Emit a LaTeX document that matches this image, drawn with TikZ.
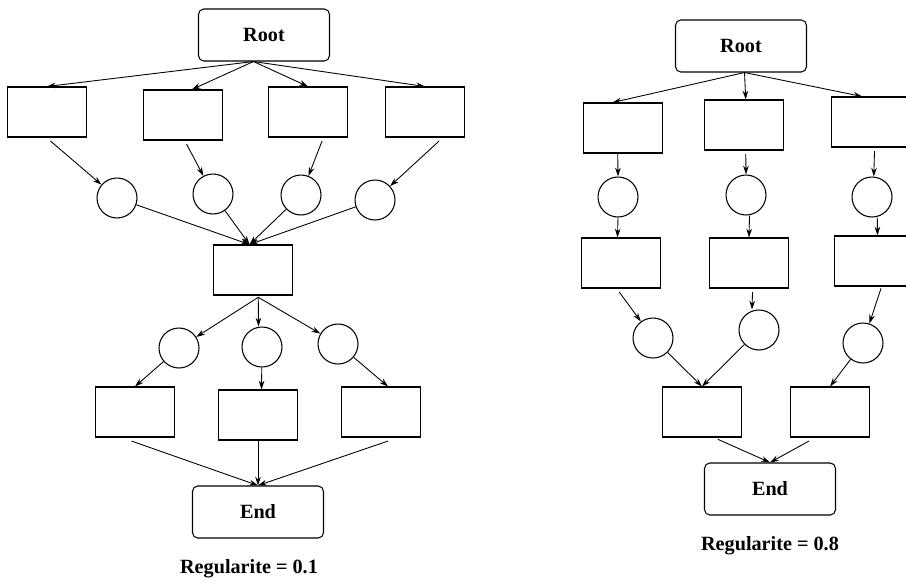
\documentclass[tikz,border=0pt]{standalone}
\usepackage{fontspec}
\setmainfont{Liberation Serif}
\usetikzlibrary{arrows.meta}
\tikzset{
  box/.style={draw, line width=0.6pt, minimum width=1.58cm, minimum height=1cm, inner sep=0pt},
  circ/.style={draw, circle, line width=0.6pt, minimum size=0.8cm, inner sep=0pt},
  term/.style={draw, rounded corners=3pt, line width=0.6pt, minimum width=2.62cm, minimum height=1.04cm, font=\fontsize{11.5}{13}\selectfont\bfseries},
  lbl/.style={font=\fontsize{11.5}{13}\selectfont\bfseries},
  arr/.style={-{Stealth[length=5pt,width=3.2pt]}, line width=0.5pt}
}
\begin{document}
\begin{tikzpicture}[x=0.02cm, y=-0.02cm]
    \useasboundingbox (0,0) rectangle (906,586);
    \clip (0,0) rectangle (906,586);
    % left graph
    \node[term] (root) at (264,35) {Root};
    \node[box] (r1) at (47,112) {};
    \node[box] (r2) at (183,115) {};
    \node[box] (r3) at (308,112) {};
    \node[box] (r4) at (425,112) {};
    \node[circ] (c1) at (117,198) {};
    \node[circ] (c2) at (213,194) {};
    \node[circ] (c3) at (301,195) {};
    \node[circ] (c4) at (375,200) {};
    \node[box] (m) at (253,270) {};
    \node[circ] (c5) at (179,348) {};
    \node[circ] (c6) at (262,347) {};
    \node[circ] (c7) at (338,344) {};
    \node[box] (b1) at (135,412) {};
    \node[box] (b2) at (258,415) {};
    \node[box] (b3) at (381,412) {};
    \node[term] (end) at (258,512) {End};
    \node[lbl] (reg1) at (249,569) {Regularite = 0.1};
    \draw[arr] ([xshift=-6pt]root.south) -- (r1.north);
    \draw[arr] ([xshift=-6pt]root.south) -- ([xshift=5pt]r2.north);
    \draw[arr] ([xshift=-6pt]root.south) -- (r3.north);
    \draw[arr] ([xshift=-6pt]root.south) -- (r4.north);
    \draw[arr] ([xshift=2pt,yshift=-2pt]r1.south) -- (c1);
    \draw[arr] ([xshift=2pt,yshift=-2pt]r2.south) -- (c2);
    \draw[arr] ([xshift=8pt,yshift=-2pt]r3.south) -- (c3);
    \draw[arr] ([xshift=8pt,yshift=-2pt]r4.south) -- (c4);
    \draw[arr] (c1) -- ([xshift=-2pt]m.north);
    \draw[arr] (c2) -- ([xshift=-2pt]m.north);
    \draw[arr] (c3) -- ([xshift=-2pt]m.north);
    \draw[arr] (c4) -- ([xshift=-2pt]m.north);
    \draw[arr] ([xshift=3pt,yshift=-1pt]m.south) -- (c5);
    \draw[arr] ([xshift=3pt,yshift=-1pt]m.south) -- ([xshift=-2pt]c6.north);
    \draw[arr] ([xshift=3pt,yshift=-1pt]m.south) -- (c7);
    \draw[arr] (c5) -- (b1.north);
    \draw[arr] (c6) -- ([xshift=2pt]b2.north);
    \draw[arr] (c7) -- ([xshift=4pt]b3.north);
    \draw[arr] ([xshift=-2pt,yshift=-2pt]b1.south) -- (end.north);
    \draw[arr] (b2.south) -- (end.north);
    \draw[arr] ([xshift=4pt,yshift=-2pt]b3.south) -- (end.north);
    % right graph
    \node[term] (root2) at (741,46) {Root};
    \node[box] (q1) at (623,128) {};
    \node[box] (q2) at (744,125) {};
    \node[box] (q3) at (871,122) {};
    \node[circ] (d1) at (618,197) {};
    \node[circ] (d2) at (746,195) {};
    \node[circ] (d3) at (872,197) {};
    \node[box] (p1) at (621,263) {};
    \node[box] (p2) at (749,263) {};
    \node[box] (p3) at (874,261) {};
    \node[circ] (e1) at (653,338) {};
    \node[circ] (e2) at (759,330) {};
    \node[circ] (e3) at (863,343) {};
    \node[box] (f1) at (702,412) {};
    \node[box] (f2) at (830,412) {};
    \node[term] (end2) at (770,489) {End};
    \node[lbl] (reg2) at (770,546) {Regularite = 0.8};
    \draw[arr] ([xshift=2pt]root2.south) -- ([xshift=-6pt]q1.north);
    \draw[arr] ([xshift=2pt]root2.south) -- ([xshift=1pt]q2.north);
    \draw[arr] ([xshift=2pt]root2.south) -- ([xshift=-5pt]q3.north);
    \draw[arr] ([xshift=-3pt]q1.south) -- (d1.north);
    \draw[arr] ([xshift=1pt,yshift=-2pt]q2.south) -- (d2.north);
    \draw[arr] ([xshift=2pt,yshift=-2pt]q3.south) -- ([xshift=1pt]d3.north);
    \draw[arr] (d1.south) -- ([xshift=-2pt]p1.north);
    \draw[arr] ([xshift=2pt]d2.south) -- (p2.north);
    \draw[arr] ([xshift=3pt]d3.south) -- ([xshift=2pt]p3.north);
    \draw[arr] ([xshift=-1pt,yshift=-2pt]p1.south) -- (e1);
    \draw[arr] ([xshift=2pt,yshift=-2pt]p2.south) -- ([xshift=-4pt]e2.north);
    \draw[arr] ([xshift=4pt,yshift=-1pt]p3.south) -- (e3);
    \draw[arr] (e1) -- (f1.north);
    \draw[arr] (e2) -- (f1.north);
    \draw[arr] (e3) -- (f2.north);
    \draw[arr] ([xshift=9pt,yshift=-1pt]f1.south) -- (end2.north);
    \draw[arr] ([xshift=-12pt,yshift=-2pt]f2.south) -- (end2.north);
\end{tikzpicture}
\end{document}
